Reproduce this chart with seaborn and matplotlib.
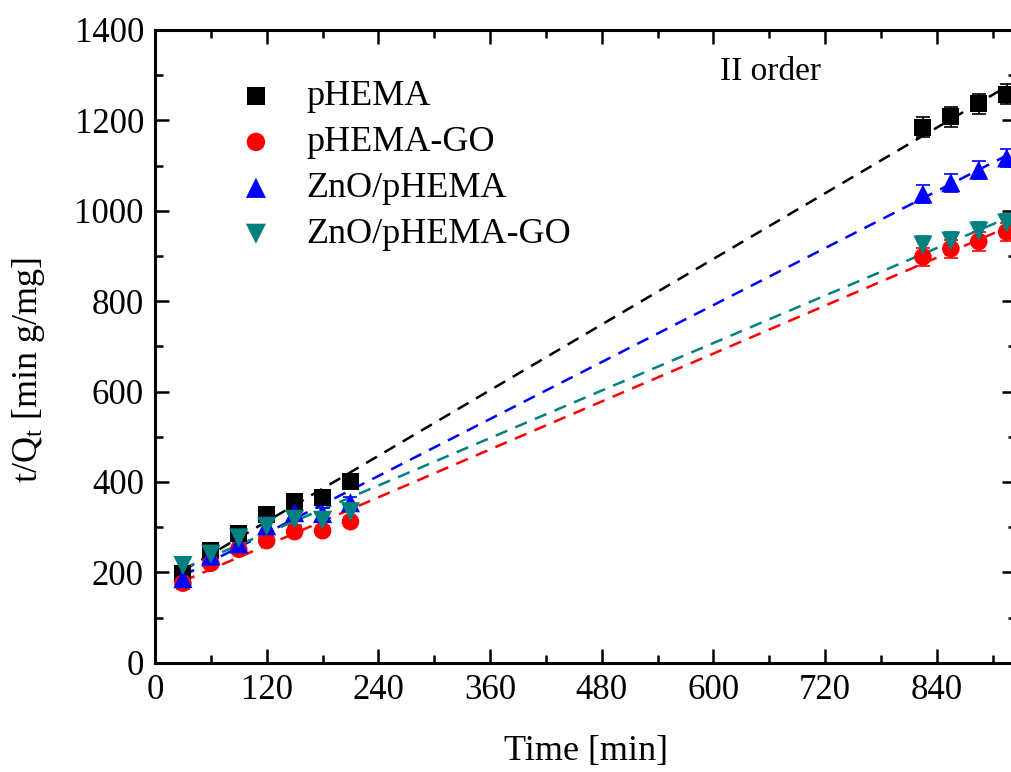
import numpy as np
import pandas as pd
import matplotlib as mpl
mpl.use('Agg')
import matplotlib.pyplot as plt
from matplotlib import ticker
import seaborn as sns

# time points [min]
time = [30, 60, 90, 120, 150, 180, 210, 825, 855, 885, 915]

# t/Qt values
phema = [198, 248, 285, 327, 357, 366, 400, 1185, 1208, 1237, 1258]
phema_go = [176, 220, 251, 270, 290, 292, 312, 898, 916, 932, 953]
zno_phema = [186, 236, 263, 303, 332, 330, 354, 1037, 1062, 1090, 1117]
zno_phema_go = [215, 240, 276, 302, 317, 315, 334, 924, 933, 955, 973]

# error bars (approx.)
err_phema = [14, 12, 12, 14, 12, 12, 12, 22, 22, 22, 22]
err_phema_go = [12, 10, 10, 10, 10, 10, 10, 20, 20, 20, 20]
err_zno_phema = [14, 12, 12, 14, 12, 12, 12, 20, 20, 20, 20]
err_zno_phema_go = [18, 12, 12, 14, 12, 12, 12, 20, 20, 20, 20]

names = ['pHEMA', 'pHEMA-GO', 'ZnO/pHEMA', 'ZnO/pHEMA-GO']
colors = ['#000000', '#FF0000', '#0000FF', '#008080']
markers = ['s', 'o', '^', 'v']
sizes = [150, 160, 190, 190]

frames = []
for name, vals, errs in zip(names,
                            [phema, phema_go, zno_phema, zno_phema_go],
                            [err_phema, err_phema_go, err_zno_phema, err_zno_phema_go]):
    frames.append(pd.DataFrame({'time': time, 'tq': vals, 'err': errs, 'sample': name}))
df = pd.concat(frames, ignore_index=True)

sns.set_theme(style='ticks')
plt.rcParams['font.family'] = ['Liberation Serif', 'DejaVu Serif']
plt.rcParams['mathtext.fontset'] = 'custom'
plt.rcParams['mathtext.rm'] = 'Liberation Serif'
plt.rcParams['mathtext.it'] = 'Liberation Serif'
plt.rcParams['text.color'] = 'black'
plt.rcParams['axes.labelcolor'] = 'black'

fig = plt.figure(figsize=(10.11, 7.72), dpi=100)
ax = fig.add_axes([155 / 1011, (772 - 662.7) / 772, 861 / 1011, 632.7 / 772])

# fitted lines (drawn first so markers sit on top)
for name, c in zip(names, colors):
    sub = df[df['sample'] == name]
    sns.regplot(data=sub, x='time', y='tq', scatter=False, ci=None, truncate=True,
                color=c, ax=ax,
                line_kws=dict(linestyle=(0, (5, 3.5)), linewidth=1.8, zorder=2))

# error bars
for name, c in zip(names, colors):
    sub = df[df['sample'] == name]
    ax.errorbar(sub['time'], sub['tq'], yerr=sub['err'], fmt='none', ecolor=c,
                elinewidth=1.2, capsize=5, capthick=1.2, zorder=3)

# markers
for name, c, m, s in zip(names, colors, markers, sizes):
    sub = df[df['sample'] == name]
    sns.scatterplot(data=sub, x='time', y='tq', color=c, marker=m, s=s,
                    edgecolor='none', label=name, ax=ax, zorder=4)

ax.set_xlim(0, 925)
ax.set_ylim(0, 1400)
ax.xaxis.set_major_locator(ticker.MultipleLocator(120))
ax.xaxis.set_minor_locator(ticker.MultipleLocator(60))
ax.yaxis.set_major_locator(ticker.MultipleLocator(200))
ax.yaxis.set_minor_locator(ticker.MultipleLocator(100))
ax.tick_params(which='both', direction='in', top=True, right=True, width=1.8,
               labelsize=25, colors='black')
ax.tick_params(which='major', length=10, pad=8)
ax.tick_params(which='minor', length=6)
for sp in ax.spines.values():
    sp.set_linewidth(2.2)
    sp.set_color('black')

ax.set_xlabel('Time [min]', fontsize=26, labelpad=20, color='black')
ax.set_ylabel(r'$\mathregular{t/Q_t}$ [min g/mg]', fontsize=26, color='black')
ax.yaxis.set_label_coords(-0.125, 0.4626)

ax.text(661, 1307, 'II order', fontsize=24, ha='center', va='center', color='black')

leg = ax.legend(loc='upper left', bbox_to_anchor=(0.048, 0.972), frameon=False,
                fontsize=26, handlelength=1.5, handletextpad=0.65,
                labelspacing=0.35, markerscale=1.05, labelcolor='black')

fig.savefig('out.png', dpi=100)
